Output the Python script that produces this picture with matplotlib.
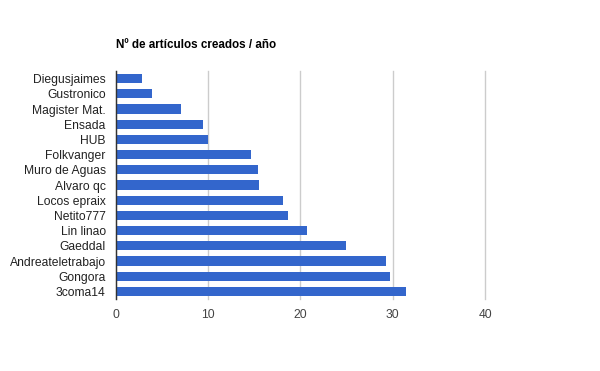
import matplotlib
matplotlib.use("Agg")
import matplotlib.pyplot as plt
import numpy as np

plt.rcParams['font.family'] = ['Liberation Sans', 'DejaVu Sans']

usuarios = ["Diegusjaimes", "Gustronico", "Magister Mat.", "Ensada", "HUB",
            "Folkvanger", "Muro de Aguas", "Alvaro qc", "Locos epraix", "Netito777",
            "Lin linao", "Gaeddal", "Andreateletrabajo", "Gongora", "3coma14"]
articulos = [2.9, 4.0, 7.1, 9.5, 10.0, 14.7, 15.4, 15.5, 18.1, 18.7,
             20.7, 24.9, 29.3, 29.7, 31.4]
x_ticks = [0, 10, 20, 30, 40]

fig = plt.figure(figsize=(6, 3.71), dpi=100)
ax = fig.add_axes([0.1925, 0.194, 0.6163, 0.6146])

y = np.arange(len(usuarios))
ax.barh(y, articulos, height=0.6, color='#3366cc', zorder=3)
ax.set_ylim(len(usuarios) - 0.5, -0.5)
ax.set_xlim(0, 40)

ax.set_yticks(y)
ax.set_yticklabels(usuarios, fontsize=8.7, color='#222222')
ax.set_xticks(x_ticks)
ax.set_xticklabels([str(t) for t in x_ticks], fontsize=8.7, color='#444444')
ax.tick_params(axis='both', length=0)
ax.tick_params(axis='y', pad=7)
ax.tick_params(axis='x', pad=7)

ax.grid(axis='x', color='#cccccc', linewidth=1, zorder=0)
for gl in ax.get_xgridlines():
    gl.set_clip_on(False)
for s in ['top', 'right', 'bottom']:
    ax.spines[s].set_visible(False)
ax.spines['left'].set_color('#333333')
ax.spines['left'].set_linewidth(1)
ax.spines['left'].set_zorder(4)

fig.text(116 / 600, 1 - 45 / 371, "Nº de artículos creados / año",
         fontsize=8.4, fontweight='bold', color='#000000', va='center', ha='left')

fig.savefig("out.png", dpi=100)
